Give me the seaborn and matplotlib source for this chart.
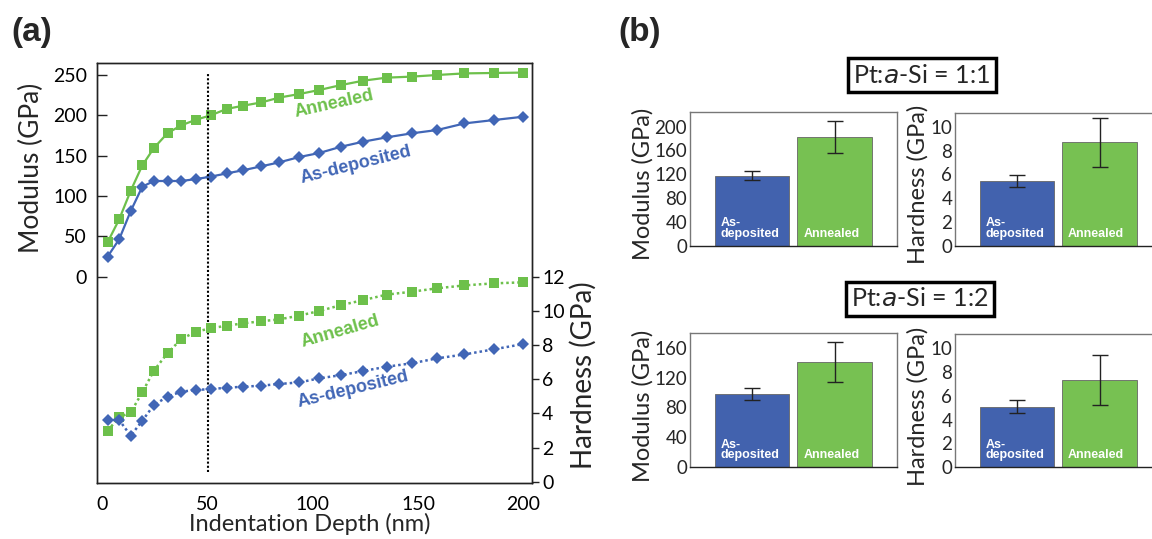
import numpy as np
import pandas as pd
import matplotlib
matplotlib.use("Agg")
import matplotlib.pyplot as plt
import seaborn as sns

# ---------------- data ----------------
depth = [2.5, 8, 13.5, 19, 24.5, 31, 37.5, 44.5, 51.5, 59, 67, 75.5, 84, 93.5,
         103, 113.5, 124, 135, 147, 159, 172, 186, 200]
mod_annealed = [42.6, 71, 106.6, 138, 159.5, 178, 187.6, 194.6, 200, 207.9, 212, 216,
                222, 226.4, 231.4, 237.6, 243, 246.7, 248, 250, 252, 252.5, 253]
mod_asdep = [24.8, 46.3, 81.4, 111.6, 118.6, 118.6, 118.6, 121, 124, 128, 132, 136.8,
             141.7, 148.3, 153.3, 161.2, 167.4, 172.7, 177.7, 181.8, 190, 194.2, 198.3]
hard_annealed = [2.99, 3.77, 4.06, 5.23, 6.5, 7.53, 8.35, 8.78, 8.98, 9.13, 9.27, 9.39,
                 9.5, 9.72, 9.99, 10.34, 10.63, 10.95, 11.12, 11.32, 11.49, 11.61, 11.67]
hard_asdep = [3.61, 3.61, 2.69, 3.57, 4.49, 4.98, 5.27, 5.37, 5.42, 5.5, 5.56, 5.62,
              5.72, 5.81, 6.05, 6.24, 6.48, 6.73, 6.93, 7.22, 7.45, 7.75, 8.06]

conditions = ["As-deposited", "Annealed"]
bar_labels = ["As-\ndeposited", "Annealed"]
# Pt:a-Si = 1:1
mod_11 = [118, 182]
mod_11_err = [7, 27]
hard_11 = [5.47, 8.7]
hard_11_err = [0.5, 2.05]
# Pt:a-Si = 1:2
mod_12 = [98.5, 141]
mod_12_err = [8, 27]
hard_12 = [5.1, 7.34]
hard_12_err = [0.56, 2.1]

mod_ticks_a = [0, 50, 100, 150, 200, 250]
hard_ticks_a = [0, 2, 4, 6, 8, 10, 12]
depth_ticks = [0, 50, 100, 150, 200]

# ---------------- style ----------------
sns.set_theme(style="white")
plt.rcParams["font.family"] = ["Lato", "DejaVu Sans"]
GREEN = "#6DC04B"
BLUE = "#4166B6"
BAR_BLUE = "#4262AE"
BAR_GREEN = "#77C152"
BOLD = ["Liberation Sans", "DejaVu Sans"]

W, H = 1152, 539
fig = plt.figure(figsize=(W / 100, H / 100), dpi=100)


def add_ax(l, t, r, b):
    return fig.add_axes([l / W, 1 - b / H, (r - l) / W, (b - t) / H])


# ---------------- panel (a) ----------------
ax = add_ax(96.7, 63.3, 532.3, 483.3)
ax2 = ax.twinx()

sns.lineplot(x=depth, y=mod_annealed, ax=ax, color=GREEN, marker="s", markersize=6.5,
             markeredgewidth=0, linewidth=1.6)
sns.lineplot(x=depth, y=mod_asdep, ax=ax, color=BLUE, marker="D", markersize=6,
             markeredgewidth=0, linewidth=1.6)
sns.lineplot(x=depth, y=hard_annealed, ax=ax2, color=GREEN, marker="s", markersize=6.5,
             markeredgewidth=0, linewidth=1.8, linestyle=(0, (1, 1.2)))
sns.lineplot(x=depth, y=hard_asdep, ax=ax2, color=BLUE, marker="D", markersize=6,
             markeredgewidth=0, linewidth=1.8, linestyle=(0, (1, 1.2)))

ax.axvline(50, ymin=0.026, ymax=0.978, color="black", linestyle=(0, (1, 1)), linewidth=1.5)

ax.set_xlim(-2.66, 204.2)
ax.set_ylim(-256.1, 264.5)
ax2.set_ylim(-0.094, 24.49)
ax.set_xticks(depth_ticks)
ax.set_yticks(mod_ticks_a)
ax2.set_yticks(hard_ticks_a)
for a in (ax, ax2):
    for s in a.spines.values():
        s.set_color("#222222")
        s.set_linewidth(1.0)
ax.tick_params(axis="both", direction="in", length=7, width=1, colors="#222222",
               labelsize=14, labelcolor="black", pad=7)
ax.tick_params(axis="x", pad=9)
ax2.tick_params(axis="y", direction="out", length=5, width=1, colors="#222222",
                labelsize=14, labelcolor="black", pad=2)
ax.set_xlabel("Indentation Depth (nm)", fontsize=17)
ax.xaxis.set_label_coords(0.49, -0.07)
ax.set_ylabel("Modulus (GPa)", fontsize=19)
ax.yaxis.set_label_coords(-0.12, 0.752)
ax2.set_ylabel("Hardness (GPa)", fontsize=20)
ax2.yaxis.set_label_coords(1.087, 0.258)

txt_kw = dict(fontweight="bold", fontsize=13, family=BOLD, ha="center", va="center",
              rotation_mode="anchor")
ax.text(109.9, 214, "Annealed", color=GREEN, rotation=12.5, **txt_kw)
ax.text(120.5, 138.5, "As-deposited", color=BLUE, rotation=14, **txt_kw)
ax2.text(113.2, 8.8, "Annealed", color=GREEN, rotation=16, **txt_kw)
ax2.text(119.0, 5.41, "As-deposited", color=BLUE, rotation=13.5, **txt_kw)

fig.text(32 / W, 1 - 32 / H, "(a)", fontsize=24, fontweight="bold", family=BOLD,
         ha="center", va="center")
fig.text(640 / W, 1 - 32 / H, "(b)", fontsize=24, fontweight="bold", family=BOLD,
         ha="center", va="center")

# ---------------- panel (b) ----------------
def bar_panel(box, vals, errs, ylim, ticks, ylabel, label_x):
    b = add_ax(*box)
    df = pd.DataFrame({"cond": conditions, "val": vals})
    sns.barplot(data=df, x="cond", y="val", hue="cond", palette=[BAR_BLUE, BAR_GREEN],
                width=0.9, ax=b, legend=False, errorbar=None,
                edgecolor="#666666", linewidth=0.6, saturation=1)
    b.errorbar([0, 1], vals, yerr=errs, fmt="none", ecolor="#222222", elinewidth=1.0,
               capsize=6, capthick=1.0)
    b.set_xlim(-0.75, 1.75)
    b.set_ylim(*ylim)
    b.set_yticks(ticks)
    b.set_xticks([])
    b.set_xlabel("")
    b.set_ylabel(ylabel, fontsize=17)
    b.yaxis.set_label_coords(label_x, 0.46)
    b.tick_params(axis="y", length=0, labelsize=13.5, pad=2)
    for name, s in b.spines.items():
        s.set_linewidth(1.0)
        s.set_color("#777777")
    b.spines["bottom"].set_color("#222222")
    for i, lab in enumerate(bar_labels):
        b.text(i - 0.38, ylim[1] * 0.045, lab, color="white", fontsize=9, fontweight="bold",
               family=BOLD, ha="left", va="bottom", linespacing=0.85)
    return b


bar_panel((690, 111.7, 896.7, 246), mod_11, mod_11_err, (0, 225),
          [0, 40, 80, 120, 160, 200], "Modulus (GPa)", -0.175)
bar_panel((955, 112.7, 1161.5, 246), hard_11, hard_11_err, (0, 11.17),
          [0, 2, 4, 6, 8, 10], "Hardness (GPa)", -0.13)
bar_panel((690, 332.7, 896.7, 467.3), mod_12, mod_12_err, (0, 180),
          [0, 40, 80, 120, 160], "Modulus (GPa)", -0.175)
bar_panel((955, 334, 1161.5, 467.3), hard_12, hard_12_err, (0, 11.2),
          [0, 2, 4, 6, 8, 10], "Hardness (GPa)", -0.13)

box_kw = dict(boxstyle="square,pad=0.22", facecolor="white", edgecolor="black",
              linewidth=2.5)
fig.text(922 / W, 1 - 75.5 / H, r"Pt:$\mathit{a}$-Si = 1:1", fontsize=18,
         ha="center", va="center", bbox=box_kw)
fig.text(920 / W, 1 - 299 / H, r"Pt:$\mathit{a}$-Si = 1:2", fontsize=18,
         ha="center", va="center", bbox=box_kw)

fig.savefig("out.png", dpi=100)
